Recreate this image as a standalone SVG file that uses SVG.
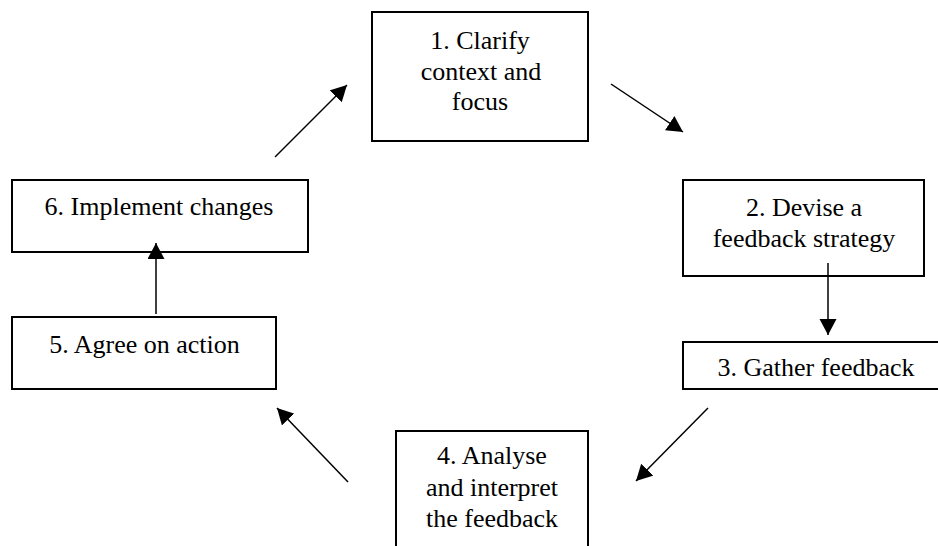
<svg xmlns="http://www.w3.org/2000/svg" width="938" height="546" viewBox="0 0 938 546">
<style>
.box{fill:#fff;stroke:#000;stroke-width:2}
.conn{stroke:#000;stroke-width:1.5;fill:none;marker-end:url(#ah)}
</style>
<defs>
<marker id="ah" markerUnits="userSpaceOnUse" markerWidth="18" markerHeight="18" refX="16" refY="8.5" orient="auto">
<path d="M0,0 L16,8.5 L0,17 z" fill="#000"/>
</marker>
</defs>
<rect width="938" height="546" fill="#fff"/>
<g id="node1" font-family="Liberation Serif, serif" font-size="26" text-anchor="middle">
<rect class="box" x="372" y="12" width="216" height="129"/>
<text x="480" y="49" style="font-family:'Liberation Serif',serif">1. Clarify</text>
<text x="481" y="79.5" style="font-family:'Liberation Serif',serif">context and</text>
<text x="480" y="110" style="font-family:'Liberation Serif',serif">focus</text>
</g>
<g id="node2" font-family="Liberation Serif, serif" font-size="26" text-anchor="middle">
<rect class="box" x="683" y="180" width="241" height="96"/>
<text x="804" y="216" style="font-family:'Liberation Serif',serif">2. Devise a</text>
<text x="804" y="247" style="font-family:'Liberation Serif',serif">feedback strategy</text>
</g>
<g id="node3" font-family="Liberation Serif, serif" font-size="26" text-anchor="middle">
<rect class="box" x="683" y="342" width="270" height="47"/>
<text x="816" y="376" style="font-family:'Liberation Serif',serif">3. Gather feedback</text>
</g>
<g id="node4" font-family="Liberation Serif, serif" font-size="26" text-anchor="middle">
<rect class="box" x="396" y="431" width="192" height="130"/>
<text x="492" y="464" style="font-family:'Liberation Serif',serif">4. Analyse</text>
<text x="492" y="496" style="font-family:'Liberation Serif',serif">and interpret</text>
<text x="492" y="527" style="font-family:'Liberation Serif',serif">the feedback</text>
</g>
<g id="node5" font-family="Liberation Serif, serif" font-size="26" text-anchor="middle">
<rect class="box" x="12" y="317" width="264" height="72"/>
<text x="144.5" y="353" style="font-family:'Liberation Serif',serif">5. Agree on action</text>
</g>
<g id="node6" font-family="Liberation Serif, serif" font-size="26" text-anchor="middle">
<rect class="box" x="12" y="180" width="296" height="72"/>
<text x="159" y="215" style="font-family:'Liberation Serif',serif">6. Implement changes</text>
</g>
<g id="connectors">
<line class="conn" x1="611" y1="84" x2="683" y2="132"/>
<line class="conn" x1="828" y1="263" x2="828" y2="335"/>
<line class="conn" x1="708" y1="408" x2="636" y2="481"/>
<line class="conn" x1="348" y1="482" x2="277" y2="408"/>
<line class="conn" x1="156" y1="314" x2="156" y2="243"/>
<line class="conn" x1="275" y1="157" x2="347" y2="85"/>
</g>
</svg>
